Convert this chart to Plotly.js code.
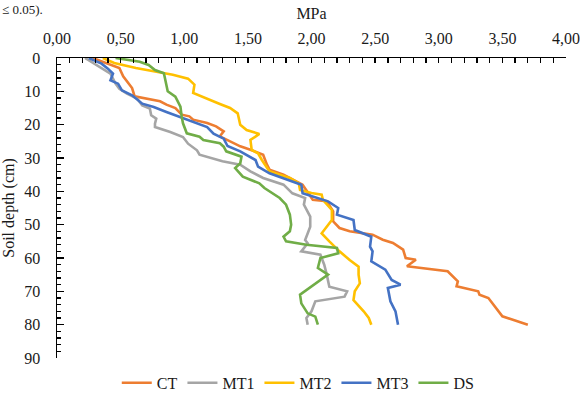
<!DOCTYPE html>
<html>
<head>
<meta charset="utf-8">
<script src="https://cdn.plot.ly/plotly-3.0.1.min.js"></script>
<style>html,body{margin:0;padding:0;background:#fff;}#chart{width:580px;height:397px;}</style>
</head>
<body>
<div id="chart"></div>
<script>
// Series names
var seriesNames = ["CT", "MT1", "MT2", "MT3", "DS"];

// CT
var ctDepth = [0,2,3,5.5,7.5,9,11.5,12,13,14,15,17,17.5,18.5,19.5,20.5,22,23.5,24.5,26.5,27.5,29,32,33.5,35,38,42.5,43,46,49,51,52,53,54.5,55.5,57.5,60,60.5,62.5,64,67,68.5,70,71,72,77.5,80];
var ctMPa   = [0.28,0.42,0.49,0.52,0.56,0.59,0.61,0.67,0.81,0.86,0.93,0.98,1.04,1.07,1.18,1.25,1.31,1.28,1.33,1.44,1.52,1.62,1.65,1.67,1.78,1.93,2.01,2.12,2.17,2.17,2.22,2.30,2.48,2.56,2.64,2.72,2.74,2.82,2.75,3.07,3.15,3.14,3.31,3.32,3.39,3.50,3.70];

// MT1
var mt1Depth = [0,1.7,3.2,4.7,7.7,9.2,10.7,12.2,14.2,15.2,17.2,18.2,19.7,20.7,22.2,23.7,25.7,27.7,29,31,32,34,36,38,40.6,42,44,47.6,50.6,54.6,55.6,58,59,62,65,68.6,70,71.6,73,76,78,80];
var mt1MPa   = [0.22,0.29,0.36,0.42,0.46,0.49,0.55,0.63,0.67,0.73,0.74,0.78,0.77,0.77,0.89,0.99,1.03,1.10,1.12,1.30,1.44,1.52,1.62,1.78,1.85,1.95,1.94,1.99,1.99,1.95,1.97,1.92,2.07,2.10,2.12,2.14,2.28,2.26,2.03,2.00,1.96,1.97];

// MT2
var mt2Depth = [0,1.5,3,4.2,5,6.2,8,10.5,12,13.8,15,16.6,20,21.6,22.8,24.6,27.6,28.6,30.6,34,35,36,37.6,39.6,40.5,41,42.6,45.6,48.6,51,52.6,55,58,60.6,62.6,65,67.6,70,72.6,76,78,80];
var mt2MPa   = [0.36,0.45,0.62,0.81,0.91,1.03,1.08,1.07,1.16,1.28,1.36,1.42,1.44,1.49,1.59,1.52,1.53,1.58,1.61,1.67,1.75,1.83,1.90,1.91,2.00,2.08,2.09,2.16,2.16,2.11,2.08,2.14,2.22,2.30,2.37,2.37,2.38,2.34,2.33,2.41,2.45,2.47];

// MT3
var mt3Depth = [0,1.7,3.2,4.7,6.7,7.7,9.7,11.2,13.7,14.7,16.2,17.7,19.2,20.7,22.7,24.2,26.4,28,30.6,32.6,34.6,36,38,40.6,42,43,45,47,48.6,51.6,53.6,56.6,58,61,63.5,66.6,68,69,73,76,80];
var mt3MPa   = [0.25,0.35,0.40,0.44,0.42,0.48,0.51,0.59,0.67,0.76,0.86,0.97,1.07,1.18,1.23,1.31,1.34,1.44,1.56,1.58,1.67,1.77,1.92,1.93,2.04,2.13,2.21,2.20,2.33,2.34,2.47,2.46,2.48,2.47,2.58,2.63,2.70,2.60,2.62,2.66,2.68];

// DS
var dsDepth = [0,1.1,2.1,3.6,4.6,7.6,10,11.6,14.6,17.6,19.6,22.6,23.6,24.6,25.6,26.6,28,29.6,31.6,33,35.6,37.6,39,42,44,47,50,52,53.6,55,56,57,58.6,60,63,65,66.6,68.6,71,73.6,76.6,77.6,80];
var dsMPa   = [0.46,0.65,0.72,0.77,0.84,0.86,0.87,0.93,0.97,0.98,0.99,1.02,1.12,1.15,1.28,1.31,1.33,1.45,1.44,1.40,1.46,1.59,1.63,1.75,1.80,1.83,1.84,1.83,1.78,1.80,1.96,2.20,2.21,2.07,2.05,2.13,2.07,1.99,1.91,1.92,1.97,2.03,2.05];

var seriesColors = ["#ED7D31", "#A5A5A5", "#FFC000", "#4472C4", "#70AD47"];

var xData = [ctMPa, mt1MPa, mt2MPa, mt3MPa, dsMPa];
var yData = [ctDepth, mt1Depth, mt2Depth, mt3Depth, dsDepth];

var font = "Times New Roman, Liberation Serif, serif";
var txtColor = "#1a1a1a";

var traces = seriesNames.map(function (n, i) {
  return {
    type: "scatter", mode: "lines", name: n,
    x: xData[i], y: yData[i],
    line: {color: seriesColors[i], width: 2.6},
    hoverinfo: "skip"
  };
});

var layout = {
  width: 580, height: 397,
  margin: {l: 57, r: 14, t: 58, b: 39, pad: 0, autoexpand: false},
  paper_bgcolor: "#fff", plot_bgcolor: "#fff",
  separators: ", ",
  font: {family: font, size: 16, color: txtColor},
  showlegend: true,
  legend: {
    orientation: "h", x: 0.474, xanchor: "center", y: -0.083, yanchor: "middle",
    font: {family: font, size: 16, color: txtColor},
    bgcolor: "rgba(0,0,0,0)", itemwidth: 30, traceorder: "normal"
  },
  xaxis: {
    side: "top", range: [0, 4], dtick: 0.5, tick0: 0, tickformat: ".2f",
    showgrid: false, zeroline: false, automargin: false,
    showline: true, linecolor: "#000", linewidth: 1.5,
    ticks: "inside", ticklen: 5, tickcolor: "#000", tickwidth: 1.3,
    minor: {dtick: 0.1, ticks: "inside", ticklen: 5, tickcolor: "#000", tickwidth: 1.3, showgrid: false},
    tickfont: {family: font, size: 16, color: txtColor},
    ticklabelstandoff: 6,
    title: {text: "MPa", font: {family: font, size: 16, color: txtColor}, standoff: 6},
    fixedrange: true
  },
  yaxis: {
    range: [90, 0], dtick: 10, tick0: 0,
    showgrid: false, zeroline: false, automargin: false,
    showline: true, linecolor: "#000", linewidth: 1.5,
    ticks: "inside", ticklen: 7, tickcolor: "#000", tickwidth: 1.3,
    minor: {dtick: 2, ticks: "inside", ticklen: 4, tickcolor: "#000", tickwidth: 1.3, showgrid: false},
    tickfont: {family: font, size: 16, color: txtColor},
    ticklabelstandoff: 12,
    title: {text: "Soil depth (cm)", font: {family: font, size: 16, color: txtColor}, standoff: 5},
    fixedrange: true
  },
  annotations: [{
    xref: "paper", yref: "paper", x: -0.112, y: 1.193, xanchor: "left", yanchor: "top",
    text: "≤ 0.05).", showarrow: false, font: {family: font, size: 13, color: txtColor}
  }]
};

Plotly.newPlot("chart", traces, layout, {displayModeBar: false, staticPlot: true});
</script>
</body>
</html>
